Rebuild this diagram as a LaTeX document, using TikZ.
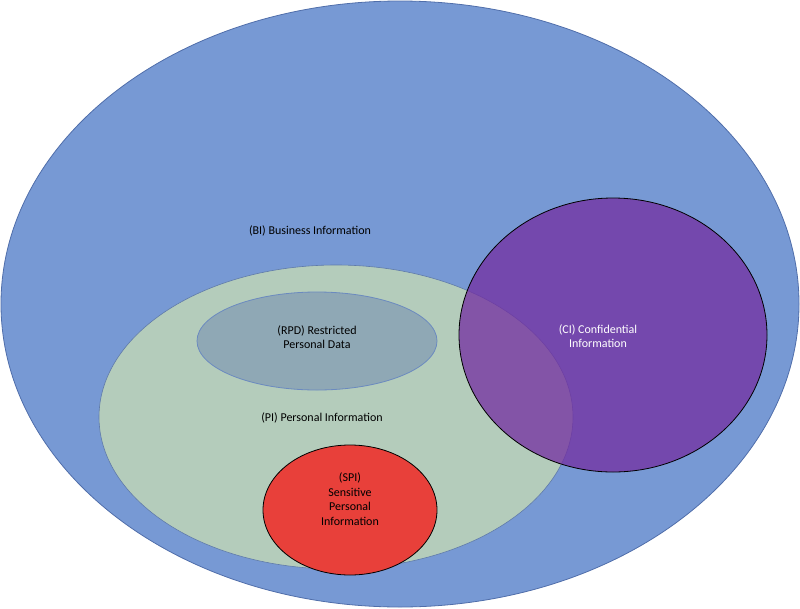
\documentclass[tikz,border=0pt]{standalone}
\usepackage{fontspec}
\setmainfont{Carlito}
\definecolor{bi}{RGB}{119,153,212}
\definecolor{biline}{RGB}{80,110,170}
\definecolor{pi}{RGB}{180,204,187}
\definecolor{rpd}{RGB}{143,168,181}
\definecolor{spi}{RGB}{232,64,58}
\definecolor{ci}{RGB}{115,45,161}
\begin{document}
\begin{tikzpicture}[x=1pt,y=-1pt,
  lbl/.style={font=\fontsize{12}{14.5}\selectfont,align=center,inner sep=0}]
\useasboundingbox (0,0) rectangle (800,608);
\path[fill=bi,draw=biline,line width=0.8pt] (400,304) ellipse [x radius=399,y radius=303];
\path[fill=pi,draw=bi!80!black,line width=0.6pt] (336,417) ellipse [x radius=237,y radius=152];
\path[fill=rpd,draw=bi!90!black,line width=0.8pt] (317,341) ellipse [x radius=120,y radius=49];
\path[fill=spi,draw=black,line width=0.8pt] (350,510) ellipse [x radius=87,y radius=65];
\path[fill=ci,fill opacity=0.75,draw=black,line width=0.8pt] (613,335) ellipse [x radius=154,y radius=137];
\node[lbl] (bt) at (310,231) {(BI) Business Information};
\node[lbl] (rt) at (317,337) {(RPD) Restricted\\Personal Data};
\node[lbl] (pt) at (322,418) {(PI) Personal Information};
\node[lbl] (st) at (350,499) {(SPI)\\Sensitive\\Personal\\Information};
\node[lbl,text=white] (ct) at (598,336) {(CI) Confidential\\Information};
\end{tikzpicture}
\end{document}
